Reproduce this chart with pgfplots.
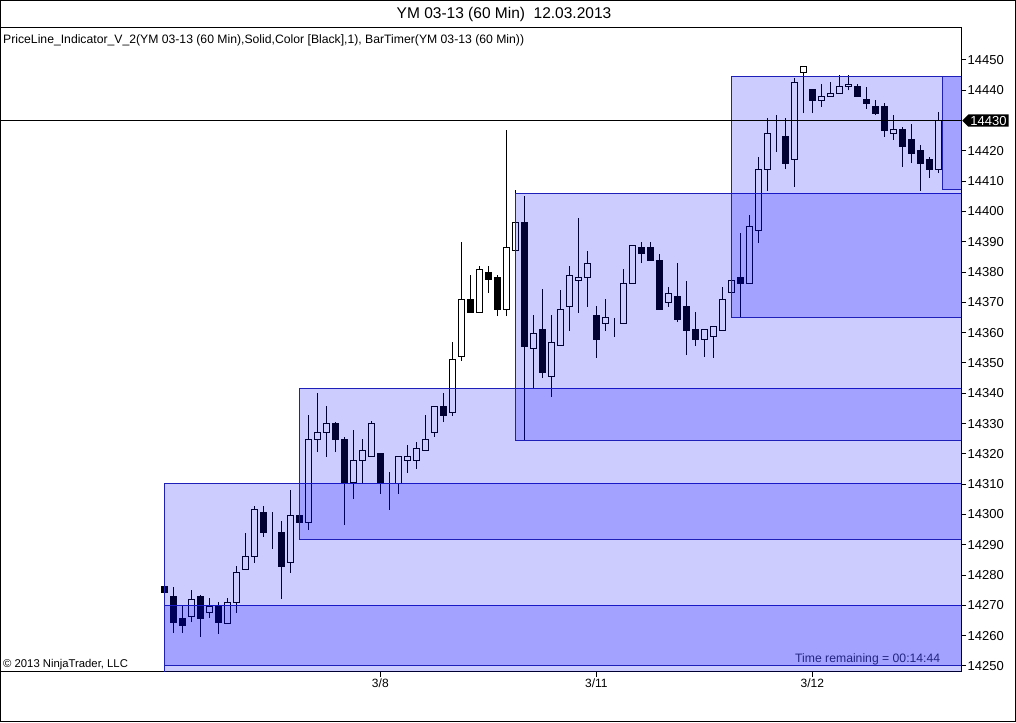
\documentclass[border=0pt]{standalone}
\usepackage{pgfplots}
\pgfplotsset{compat=1.18}
\usepackage{pgfplotstable}
\usepackage{fontspec}
\setmainfont{Liberation Sans}
\usetikzlibrary{shapes.symbols}
\definecolor{boxline}{RGB}{30,30,185}
\definecolor{navytext}{RGB}{35,35,130}

\pgfplotstableread{
i o h l c
0 14276.1 14276.5 14273.8 14274.1
1 14273.1 14276.1 14260.9 14264.5
2 14265.8 14270.1 14260.9 14263.5
3 14266.5 14275.1 14264.5 14272.1
4 14273.1 14273.5 14259.6 14265.8
5 14267.8 14272.4 14265.8 14269.8
6 14269.8 14271.1 14260.6 14264.5
7 14263.9 14272.4 14263.9 14271.1
8 14271.1 14283.0 14267.5 14281.0
9 14282.0 14293.9 14282.0 14286.0
10 14286.0 14302.8 14284.0 14301.8
11 14300.8 14302.8 14292.6 14293.9
12 14293.9 14300.8 14288.6 14293.9
13 14293.9 14297.9 14272.1 14282.7
14 14284.0 14308.1 14280.7 14299.8
15 14299.8 14300.5 14297.2 14297.5
16 14297.5 14332.8 14294.9 14324.9
17 14324.9 14340.1 14320.6 14326.9
18 14326.9 14335.8 14319.0 14329.9
19 14329.9 14330.5 14320.6 14324.9
20 14324.9 14325.6 14296.5 14310.7
21 14310.7 14327.9 14305.1 14317.7
22 14317.7 14324.9 14310.1 14321.0
23 14319.0 14330.9 14319.0 14329.9
24 14320.0 14320.0 14306.8 14310.1
25 14309.1 14314.0 14301.5 14309.1
26 14310.1 14319.0 14306.8 14319.0
27 14317.7 14322.9 14313.7 14319.0
28 14317.7 14323.9 14315.0 14321.9
29 14321.0 14332.8 14321.0 14324.9
30 14326.9 14335.8 14325.6 14335.8
31 14335.8 14340.1 14330.5 14332.8
32 14333.5 14356.9 14332.5 14351.0
33 14352.0 14389.9 14350.7 14371.1
34 14371.1 14379.0 14366.5 14366.5
35 14366.5 14382.0 14366.5 14381.0
36 14380.0 14382.0 14373.1 14377.7
37 14378.1 14379.0 14365.5 14367.8
38 14367.8 14426.9 14365.5 14388.0
39 14387.0 14407.1 14387.0 14396.5
40 14396.5 14405.1 14324.3 14355.6
41 14354.9 14365.8 14341.7 14359.9
42 14360.9 14374.4 14345.0 14346.7
43 14345.7 14365.8 14338.8 14356.9
44 14355.9 14374.1 14355.6 14367.8
45 14368.5 14382.0 14360.6 14379.0
46 14377.1 14397.9 14366.5 14378.1
47 14378.1 14387.0 14368.5 14383.0
48 14365.8 14368.8 14351.7 14357.9
49 14362.9 14371.1 14360.6 14364.9
50 14364.9 14364.9 14358.6 14364.9
51 14362.9 14381.0 14362.9 14376.1
52 14376.1 14388.9 14376.1 14388.9
53 14388.0 14389.9 14383.0 14386.0
54 14388.0 14389.9 14383.7 14383.7
55 14383.7 14386.0 14367.8 14367.8
56 14369.8 14375.1 14368.5 14373.1
57 14372.1 14383.0 14363.5 14364.5
58 14368.8 14377.0 14352.6 14360.6
59 14360.9 14366.8 14355.6 14357.6
60 14357.9 14360.9 14352.0 14360.9
61 14358.6 14361.9 14351.7 14361.9
62 14360.6 14375.1 14360.6 14371.1
63 14373.1 14377.1 14373.1 14377.1
64 14378.1 14392.9 14364.9 14376.1
65 14376.1 14398.8 14376.1 14394.9
66 14393.6 14418.0 14389.6 14414.0
67 14414.0 14430.9 14406.8 14425.9
68 14425.9 14431.8 14419.6 14425.9
69 14424.9 14430.9 14414.0 14416.0
70 14417.0 14444.1 14408.1 14442.7
71 14446.0 14448.0 14432.5 14448.0
72 14440.1 14440.1 14432.5 14436.5
73 14436.5 14442.1 14434.5 14437.8
74 14437.8 14442.7 14437.8 14439.1
75 14439.1 14445.0 14439.1 14441.1
76 14441.1 14445.0 14440.0 14442.0
77 14441.1 14442.1 14438.1 14438.1
78 14436.8 14441.1 14433.8 14435.8
79 14434.8 14436.8 14431.8 14432.5
80 14434.8 14435.8 14424.6 14426.6
81 14425.9 14431.8 14423.6 14426.9
82 14426.9 14427.9 14414.7 14421.6
83 14423.9 14428.9 14416.0 14419.0
84 14420.0 14422.0 14406.8 14416.0
85 14417.0 14418.0 14411.1 14414.0
86 14414.0 14432.8 14412.7 14430.0
}\candles

\pgfplotsset{
  base/.style={at={(0pt,50pt)}, anchor=south west, scale only axis,
    width=961pt, height=644pt,
    xmin=-18.26, xmax=88.52, ymin=14248.02, ymax=14460.56},
  boxstyle/.style={fill=blue, fill opacity=0.2, draw=boxline, draw opacity=1, line width=1pt}
}

\begin{document}
\begin{tikzpicture}[x=1pt,y=1pt]
\path[use as bounding box] (0,0) rectangle (1016,722);
\draw[black, line width=1pt] (0.5,0.5) rectangle (1015.5,721.5);

% wicks
\begin{axis}[base, hide axis]
\addplot[draw=none, mark=none, error bars/.cd, y dir=plus, y explicit, error mark=none,
  error bar style={draw=black, solid, line width=1pt}]
  table[x=i, y=l, y error expr=\thisrow{h}-\thisrow{l}] {\candles};
\end{axis}

% bodies
\begin{axis}[base, hide axis, ybar stacked, bar width=0.62]
\addplot[draw=none, fill=none] table[x=i, y expr={min(\thisrow{o},\thisrow{c})}] {\candles};
\addplot[draw=black, fill=white, line width=1pt] table[x=i, y expr={max(\thisrow{c}-\thisrow{o},0)}] {\candles};
\addplot[draw=black, fill=black, line width=1pt] table[x=i, y expr={max(\thisrow{o}-\thisrow{c},0)}] {\candles};
\end{axis}

% boxes, price line and frame
\begin{axis}[base,
  axis line style={black, line width=1pt},
  xtick={24,48,72}, xticklabels={3/8,3/11,3/12},
  xtick pos=left, ytick pos=right, yticklabel pos=right,
  ytick={14250,14260,14270,14280,14290,14300,14310,14320,14330,14340,14350,14360,14370,14380,14390,14400,14410,14420,14440,14450},
  scaled y ticks=false,
  /pgf/number format/.cd, fixed, precision=0, 1000 sep={}, assume math mode=true,
  /pgfplots/.cd,
  tick align=outside, major tick length=5pt,
  tick style={black, line width=1pt},
  yticklabel style={font=\fontsize{13}{13}\selectfont, inner sep=1.5pt},
  xticklabel style={font=\fontsize{12}{12}\selectfont, inner sep=2pt},
  ]
\addplot[boxstyle] coordinates {(0,14230) (90,14230) (90,14270.1) (0,14270.1)} -- cycle;
\addplot[boxstyle] coordinates {(0,14250) (90,14250) (90,14310.1) (0,14310.1)} -- cycle;
\addplot[boxstyle] coordinates {(15,14291.6) (90,14291.6) (90,14341.7) (15,14341.7)} -- cycle;
\addplot[boxstyle] coordinates {(39,14324.3) (90,14324.3) (90,14406.1) (39,14406.1)} -- cycle;
\addplot[boxstyle] coordinates {(62.97,14364.9) (90,14364.9) (90,14444.4) (62.97,14444.4)} -- cycle;
\addplot[boxstyle] coordinates {(86.45,14407.1) (90,14407.1) (90,14444.4) (86.45,14444.4)} -- cycle;
\addplot[black, line width=1pt] coordinates {(-20,14430) (90,14430)};
\end{axis}

\node[signal, signal to=west, fill=black, text=white, anchor=west,
  font=\fontsize{13}{13}\selectfont, inner xsep=2pt, inner ysep=1.5pt] at (962,601.4) {14430};

\node[anchor=base, font=\fontsize{15.5}{15.5}\selectfont, inner sep=0] at (504,703.5) {YM 03-13 (60 Min)\ \ 12.03.2013};
\node[anchor=base west, font=\fontsize{12.2}{12.2}\selectfont, inner sep=0] at (3,678.5)
  {PriceLine\_Indicator\_V\_2(YM 03-13 (60 Min),Solid,Color [Black],1), BarTimer(YM 03-13 (60 Min))};
\node[anchor=base west, font=\fontsize{11.3}{11.3}\selectfont, inner sep=0] at (3,54) {\textcopyright\ 2013 NinjaTrader, LLC};
\node[anchor=base west, font=\fontsize{12.2}{12.2}\selectfont, text=navytext, inner sep=0] at (795,59) {Time remaining = 00:14:44};
\end{tikzpicture}
\end{document}
